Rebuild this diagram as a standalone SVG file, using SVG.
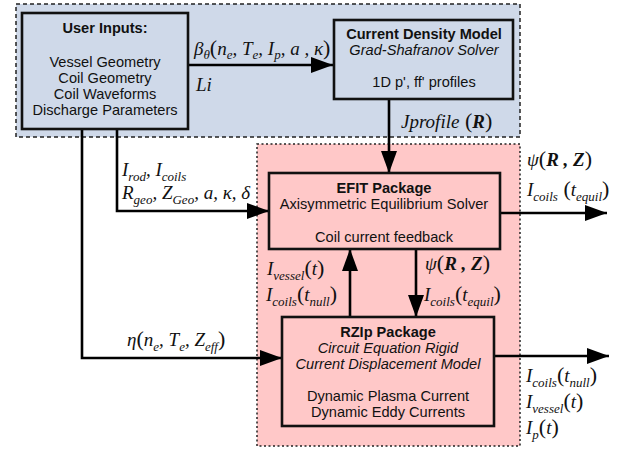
<svg xmlns="http://www.w3.org/2000/svg" width="626" height="451" viewBox="0 0 626 451">
<defs>
<marker id="ah" markerUnits="userSpaceOnUse" markerWidth="24" markerHeight="16" refX="22" refY="8" orient="auto">
<path d="M0,0 L22,8 L0,16 Z" fill="#000"/>
</marker>
<style>
.sans{font-family:"Liberation Sans",Arial,sans-serif;font-size:14.6px;fill:#111;text-anchor:middle}
.b{font-weight:bold}
.i{font-style:italic}
.box{stroke:#111;stroke-width:2.6}
.line{fill:none;stroke:#000;stroke-width:2.6}
.m{font-family:"Liberation Serif","Times New Roman",serif;font-style:italic;font-size:19px;fill:#111}
.s{font-size:13px}
.p{font-style:normal;font-size:22px}
.bd{font-weight:bold}
</style>
</defs>
<rect x="16" y="4" width="504" height="133" fill="#cfd9e9" stroke="#222" stroke-width="1.5" stroke-dasharray="4,3"/>
<rect x="257" y="144" width="263" height="302" fill="#ffc8c8" stroke="#222" stroke-width="1.5" stroke-dasharray="2,2.5"/>
<g id="connectors">
<line class="line" x1="188" y1="65" x2="333" y2="65" marker-end="url(#ah)"/>
<line class="line" x1="389" y1="99" x2="389" y2="173" marker-end="url(#ah)"/>
<polyline class="line" points="117,129 117,211 269,211" marker-end="url(#ah)"/>
<polyline class="line" points="82,129 82,358 282,358" marker-end="url(#ah)"/>
<line class="line" x1="500" y1="213" x2="607" y2="213" marker-end="url(#ah)"/>
<line class="line" x1="350" y1="317" x2="350" y2="249" marker-end="url(#ah)"/>
<line class="line" x1="416" y1="249" x2="416" y2="317" marker-end="url(#ah)"/>
<line class="line" x1="494" y1="356" x2="609" y2="356" marker-end="url(#ah)"/>
<text class="m" x="194" y="55">β<tspan class="s" dy="4">θ</tspan><tspan class="p" dy="-4">(</tspan>n<tspan class="s" dy="4">e</tspan><tspan dy="-4">, T</tspan><tspan class="s" dy="4">e</tspan><tspan dy="-4">, I</tspan><tspan class="s" dy="4">p</tspan><tspan dy="-4">, a , κ</tspan><tspan class="p">)</tspan></text>
<text class="m" x="196" y="91">Li</text>
<text class="m" x="401" y="128">Jprofile<tspan class="p"> (</tspan><tspan class="bd">R</tspan><tspan class="p">)</tspan></text>
<text class="m" x="122" y="176">I<tspan class="s" dy="5">rod</tspan><tspan dy="-5">, I</tspan><tspan class="s" dy="5">coils</tspan></text>
<text class="m" x="122" y="199">R<tspan class="s" dy="5">geo</tspan><tspan dy="-5">, Z</tspan><tspan class="s" dy="5">Geo</tspan><tspan dy="-5">, a, κ, δ</tspan></text>
<text class="m" x="527" y="166">ψ<tspan class="p">(</tspan><tspan class="bd">R , Z</tspan><tspan class="p">)</tspan></text>
<text class="m" x="527" y="196">I<tspan class="s" dy="5">coils</tspan><tspan class="p" dy="-5"> (</tspan>t<tspan class="s" dy="5">equil</tspan><tspan class="p" dy="-5">)</tspan></text>
<text class="m" x="267" y="275">I<tspan class="s" dy="5">vessel</tspan><tspan class="p" dy="-5">(</tspan>t<tspan class="p">)</tspan></text>
<text class="m" x="266" y="301">I<tspan class="s" dy="5">coils</tspan><tspan class="p" dy="-5">(</tspan>t<tspan class="s" dy="5">null</tspan><tspan class="p" dy="-5">)</tspan></text>
<text class="m" x="425" y="270">ψ<tspan class="p">(</tspan><tspan class="bd">R , Z</tspan><tspan class="p">)</tspan></text>
<text class="m" x="424" y="301">I<tspan class="s" dy="5">coils</tspan><tspan class="p" dy="-5">(</tspan>t<tspan class="s" dy="5">equil</tspan><tspan class="p" dy="-5">)</tspan></text>
<text class="m" x="127" y="346">η<tspan class="p">(</tspan>n<tspan class="s" dy="5">e</tspan><tspan dy="-5">, T</tspan><tspan class="s" dy="5">e</tspan><tspan dy="-5">, Z</tspan><tspan class="s" dy="5">eff</tspan><tspan class="p" dy="-5">)</tspan></text>
<text class="m" x="526" y="382">I<tspan class="s" dy="5">coils</tspan><tspan class="p" dy="-5">(</tspan>t<tspan class="s" dy="5">null</tspan><tspan class="p" dy="-5">)</tspan></text>
<text class="m" x="526" y="408">I<tspan class="s" dy="5">vessel</tspan><tspan class="p" dy="-5">(</tspan>t<tspan class="p">)</tspan></text>
<text class="m" x="526" y="434">I<tspan class="s" dy="5">p</tspan><tspan class="p" dy="-5">(</tspan>t<tspan class="p">)</tspan></text>
</g>
<g id="user-inputs">
<rect class="box" x="22" y="13" width="166" height="116" fill="#cfd9e9"/>
<text class="sans b" x="105" y="33">User Inputs:</text>
<text class="sans" x="105" y="67">Vessel Geometry</text>
<text class="sans" x="105" y="83">Coil Geometry</text>
<text class="sans" x="105" y="99">Coil Waveforms</text>
<text class="sans" x="105" y="115">Discharge Parameters</text>
</g>
<g id="current-density-model">
<rect class="box" x="334" y="20" width="179" height="79" fill="#cfd9e9"/>
<text class="sans b" x="424" y="39">Current Density Model</text>
<text class="sans i" x="424" y="55">Grad-Shafranov Solver</text>
<text class="sans" x="424" y="87">1D p', ff' profiles</text>
</g>
<g id="efit-package">
<rect class="box" x="269" y="173" width="231" height="76" fill="#ffc8c8"/>
<text class="sans b" x="384" y="193">EFIT Package</text>
<text class="sans" x="384" y="209">Axisymmetric Equilibrium Solver</text>
<text class="sans" x="384" y="242">Coil current feedback</text>
</g>
<g id="rzip-package">
<rect class="box" x="282" y="317" width="212" height="109" fill="#ffc8c8"/>
<text class="sans b" x="388" y="337">RZIp Package</text>
<text class="sans i" x="388" y="353">Circuit Equation Rigid</text>
<text class="sans i" x="388" y="369">Current Displacement Model</text>
<text class="sans" x="388" y="401">Dynamic Plasma Current</text>
<text class="sans" x="388" y="417">Dynamic Eddy Currents</text>
</g>
</svg>
